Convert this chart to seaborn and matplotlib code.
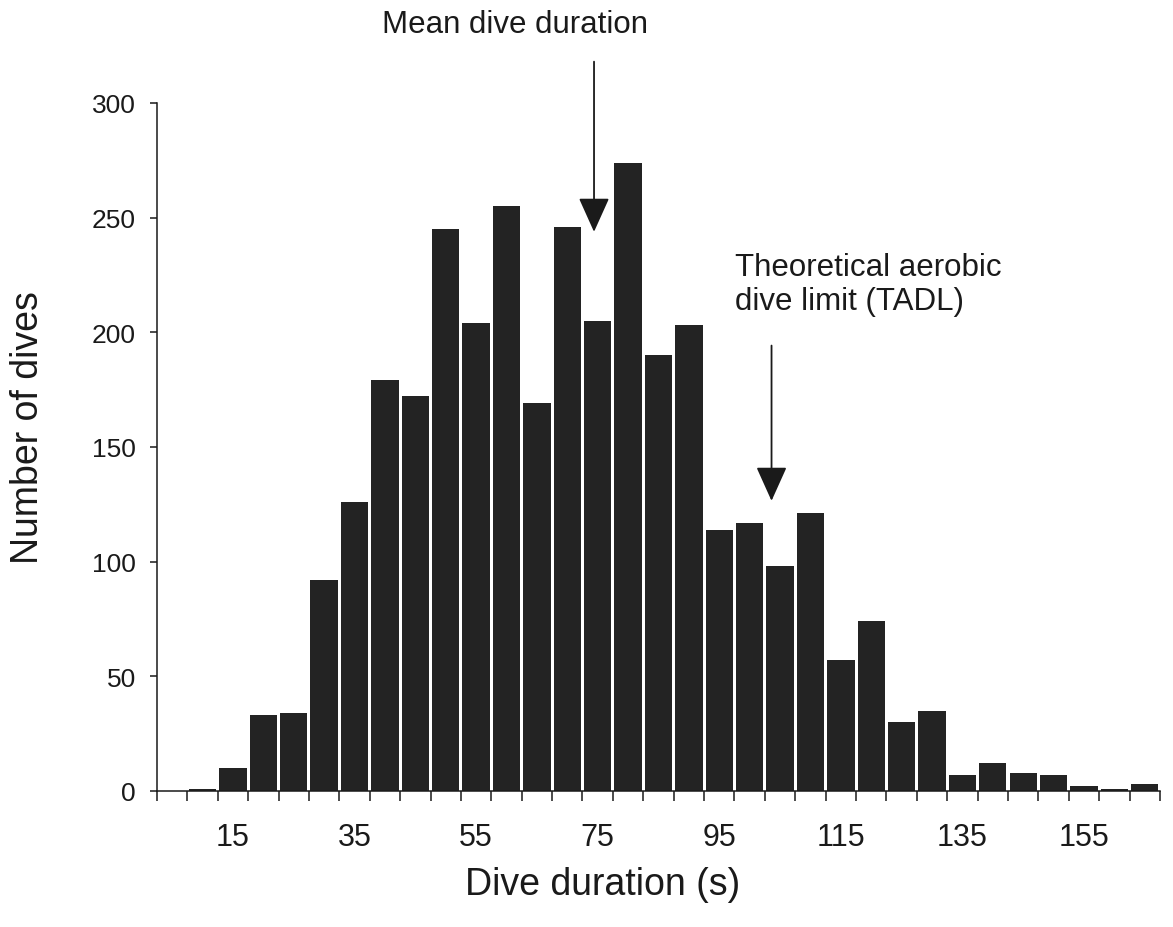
import numpy as np
import matplotlib
matplotlib.use("Agg")
import matplotlib.pyplot as plt
import seaborn as sns

# Dive duration bins (s, upper edge of each 5 s class) and dive counts
durations = [5, 10, 15, 20, 25, 30, 35, 40, 45, 50, 55, 60, 65, 70, 75, 80,
             85, 90, 95, 100, 105, 110, 115, 120, 125, 130, 135, 140, 145,
             150, 155, 160, 165]
counts = [0, 1, 10, 33, 34, 92, 126, 179, 172, 245, 204, 255, 169, 246, 205,
          274, 190, 203, 114, 117, 98, 121, 57, 74, 30, 35, 7, 12, 8, 7, 2, 1, 3]

x_tick_values = [15, 35, 55, 75, 95, 115, 135, 155]
y_tick_values = [0, 50, 100, 150, 200, 250, 300]

mean_duration = 74.4      # s
tadl_duration = 103.6     # s

BAR = "#232323"
INK = "#1a1a1a"

sns.set_style("ticks")
plt.rcParams["font.family"] = ["Liberation Sans", "DejaVu Sans"]

fig = plt.figure(figsize=(11.73, 9.28), dpi=100)
ax = fig.add_axes([0.1338, 0.1466, 0.8551, 0.7414])

sns.barplot(x=durations, y=counts, color=BAR, saturation=1, width=0.9,
            edgecolor="none", ax=ax)

n = len(durations)
ax.set_xlim(-0.5, n - 0.5)
ax.set_ylim(0, 300)


def to_pos(seconds):
    # categorical position of a duration on the 5 s class axis
    return (seconds - durations[0]) / (durations[1] - durations[0])


# x axis: tick marks at class boundaries, labels under selected classes
ax.set_xticks([to_pos(v) for v in x_tick_values])
ax.set_xticklabels([str(v) for v in x_tick_values])
ax.set_xticks(np.arange(-0.5, n, 1.0), minor=True)
ax.tick_params(axis="x", which="major", length=0, pad=22, labelsize=22,
               labelcolor=INK)
ax.tick_params(axis="x", which="minor", length=7, width=1.1, color=INK,
               direction="out")

ax.set_yticks(y_tick_values)
ax.tick_params(axis="y", length=5, width=1.1, color=INK, pad=10,
               labelsize=19, labelcolor=INK, direction="out")

for side in ("left", "bottom"):
    ax.spines[side].set_linewidth(1.1)
    ax.spines[side].set_color(INK)
sns.despine(ax=ax)

ax.set_xlabel("Dive duration (s)", fontsize=27, color=INK)
ax.set_ylabel("Number of dives", fontsize=27, color=INK)
ax.xaxis.label.set_va("center")
ax.yaxis.label.set_va("center")
ax.xaxis.set_label_coords(0.4447, -0.1352)
ax.yaxis.set_label_coords(-0.1286, 0.5298)

arrow_style = dict(arrowstyle="-|>,head_length=0.6,head_width=0.27",
                   mutation_scale=36, lw=1.3, color=INK,
                   shrinkA=0, shrinkB=0)

# mean dive duration marker
ax.annotate("", xy=(to_pos(mean_duration), 243.8),
            xytext=(to_pos(mean_duration), 318),
            arrowprops=arrow_style, annotation_clip=False)
fig.text(0.439, 0.973, "Mean dive duration", fontsize=22.5, color=INK,
         ha="center", va="center")

# theoretical aerobic dive limit marker
ax.annotate("", xy=(to_pos(tadl_duration), 126.5),
            xytext=(to_pos(tadl_duration), 194.2),
            arrowprops=arrow_style, annotation_clip=False)
fig.text(0.6266, 0.6929, "Theoretical aerobic\ndive limit (TADL)",
         fontsize=22.5, color=INK, ha="left", va="center", linespacing=1.15)

fig.savefig("out.png", dpi=100)
